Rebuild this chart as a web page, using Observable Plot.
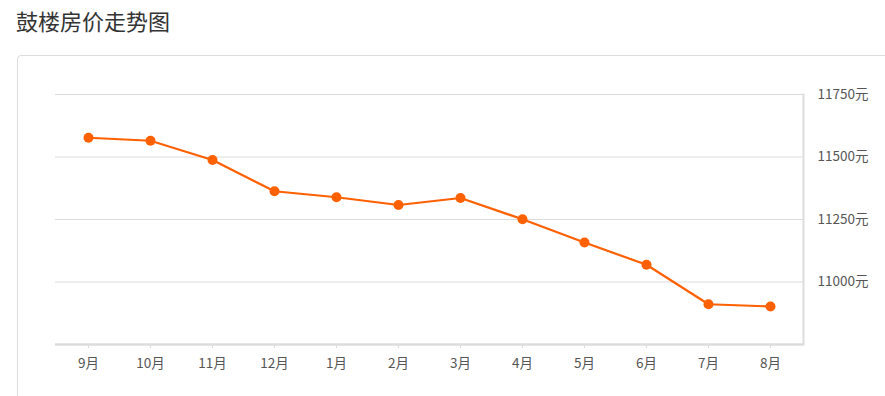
<!DOCTYPE html>
<html>
<head>
<meta charset="utf-8">
<script src="https://cdn.jsdelivr.net/npm/d3@7"></script>
<script src="https://cdn.jsdelivr.net/npm/@observablehq/plot@0.6"></script>
<style>
  html, body { margin: 0; padding: 0; background: #fff; width: 885px; height: 396px; overflow: hidden; }
  body { position: relative; font-family: "Noto Sans CJK SC", "Noto Sans", sans-serif; }
  #title { position: absolute; left: 16px; top: 4px; font-size: 22px; color: #333; line-height: 32px; }
  #card { position: absolute; left: 17px; top: 55px; width: 900px; height: 400px; border: 1px solid #ddd; border-radius: 4px; box-sizing: border-box; }
  #chart { position: absolute; left: 0; top: 55px; }
</style>
</head>
<body>
<div id="title">鼓楼房价走势图</div>
<div id="card"></div>
<div id="chart"></div>
<script>
const months = ["9月","10月","11月","12月","1月","2月","3月","4月","5月","6月","7月","8月"];
const prices = [11577, 11565, 11488, 11363, 11339, 11308, 11336, 11251, 11158, 11069, 10911, 10902];
const yTicks = [11000, 11250, 11500, 11750];
const yDomain = [10750, 11750];

const data = months.map((m, i) => ({month: m, price: prices[i]}));
const orange = "#ff6000";

const chart = Plot.plot({
  width: 885,
  height: 341,
  marginLeft: 55,
  marginRight: 82,
  marginTop: 39,
  marginBottom: 52,
  style: {fontFamily: '"Noto Sans CJK SC", "Noto Sans", sans-serif', fontSize: "13.5px", background: "transparent", overflow: "visible"},
  x: {type: "point", domain: months, padding: 0.5},
  y: {domain: yDomain},
  marks: [
    Plot.ruleY(yTicks, {stroke: "#dcdcdc", strokeWidth: 1, strokeOpacity: 1}),
    Plot.frame({anchor: "right", stroke: "#dcdcdc", strokeWidth: 2}),
    Plot.ruleY([yDomain[0]], {stroke: "#dcdcdc", strokeWidth: 2.5}),
    Plot.axisX({tickSize: 4, stroke: "#dcdcdc", strokeOpacity: 1, tickPadding: 10, fill: "#555", label: null}),
    Plot.axisY({anchor: "right", ticks: yTicks, tickSize: 0, tickPadding: 14, tickFormat: d => d + "元", fill: "#555", label: null}),
    Plot.line(data, {x: "month", y: "price", stroke: orange, strokeWidth: 2.2}),
    Plot.dot(data, {x: "month", y: "price", fill: orange, r: 5})
  ]
});
document.getElementById("chart").appendChild(chart);
</script>
</body>
</html>
